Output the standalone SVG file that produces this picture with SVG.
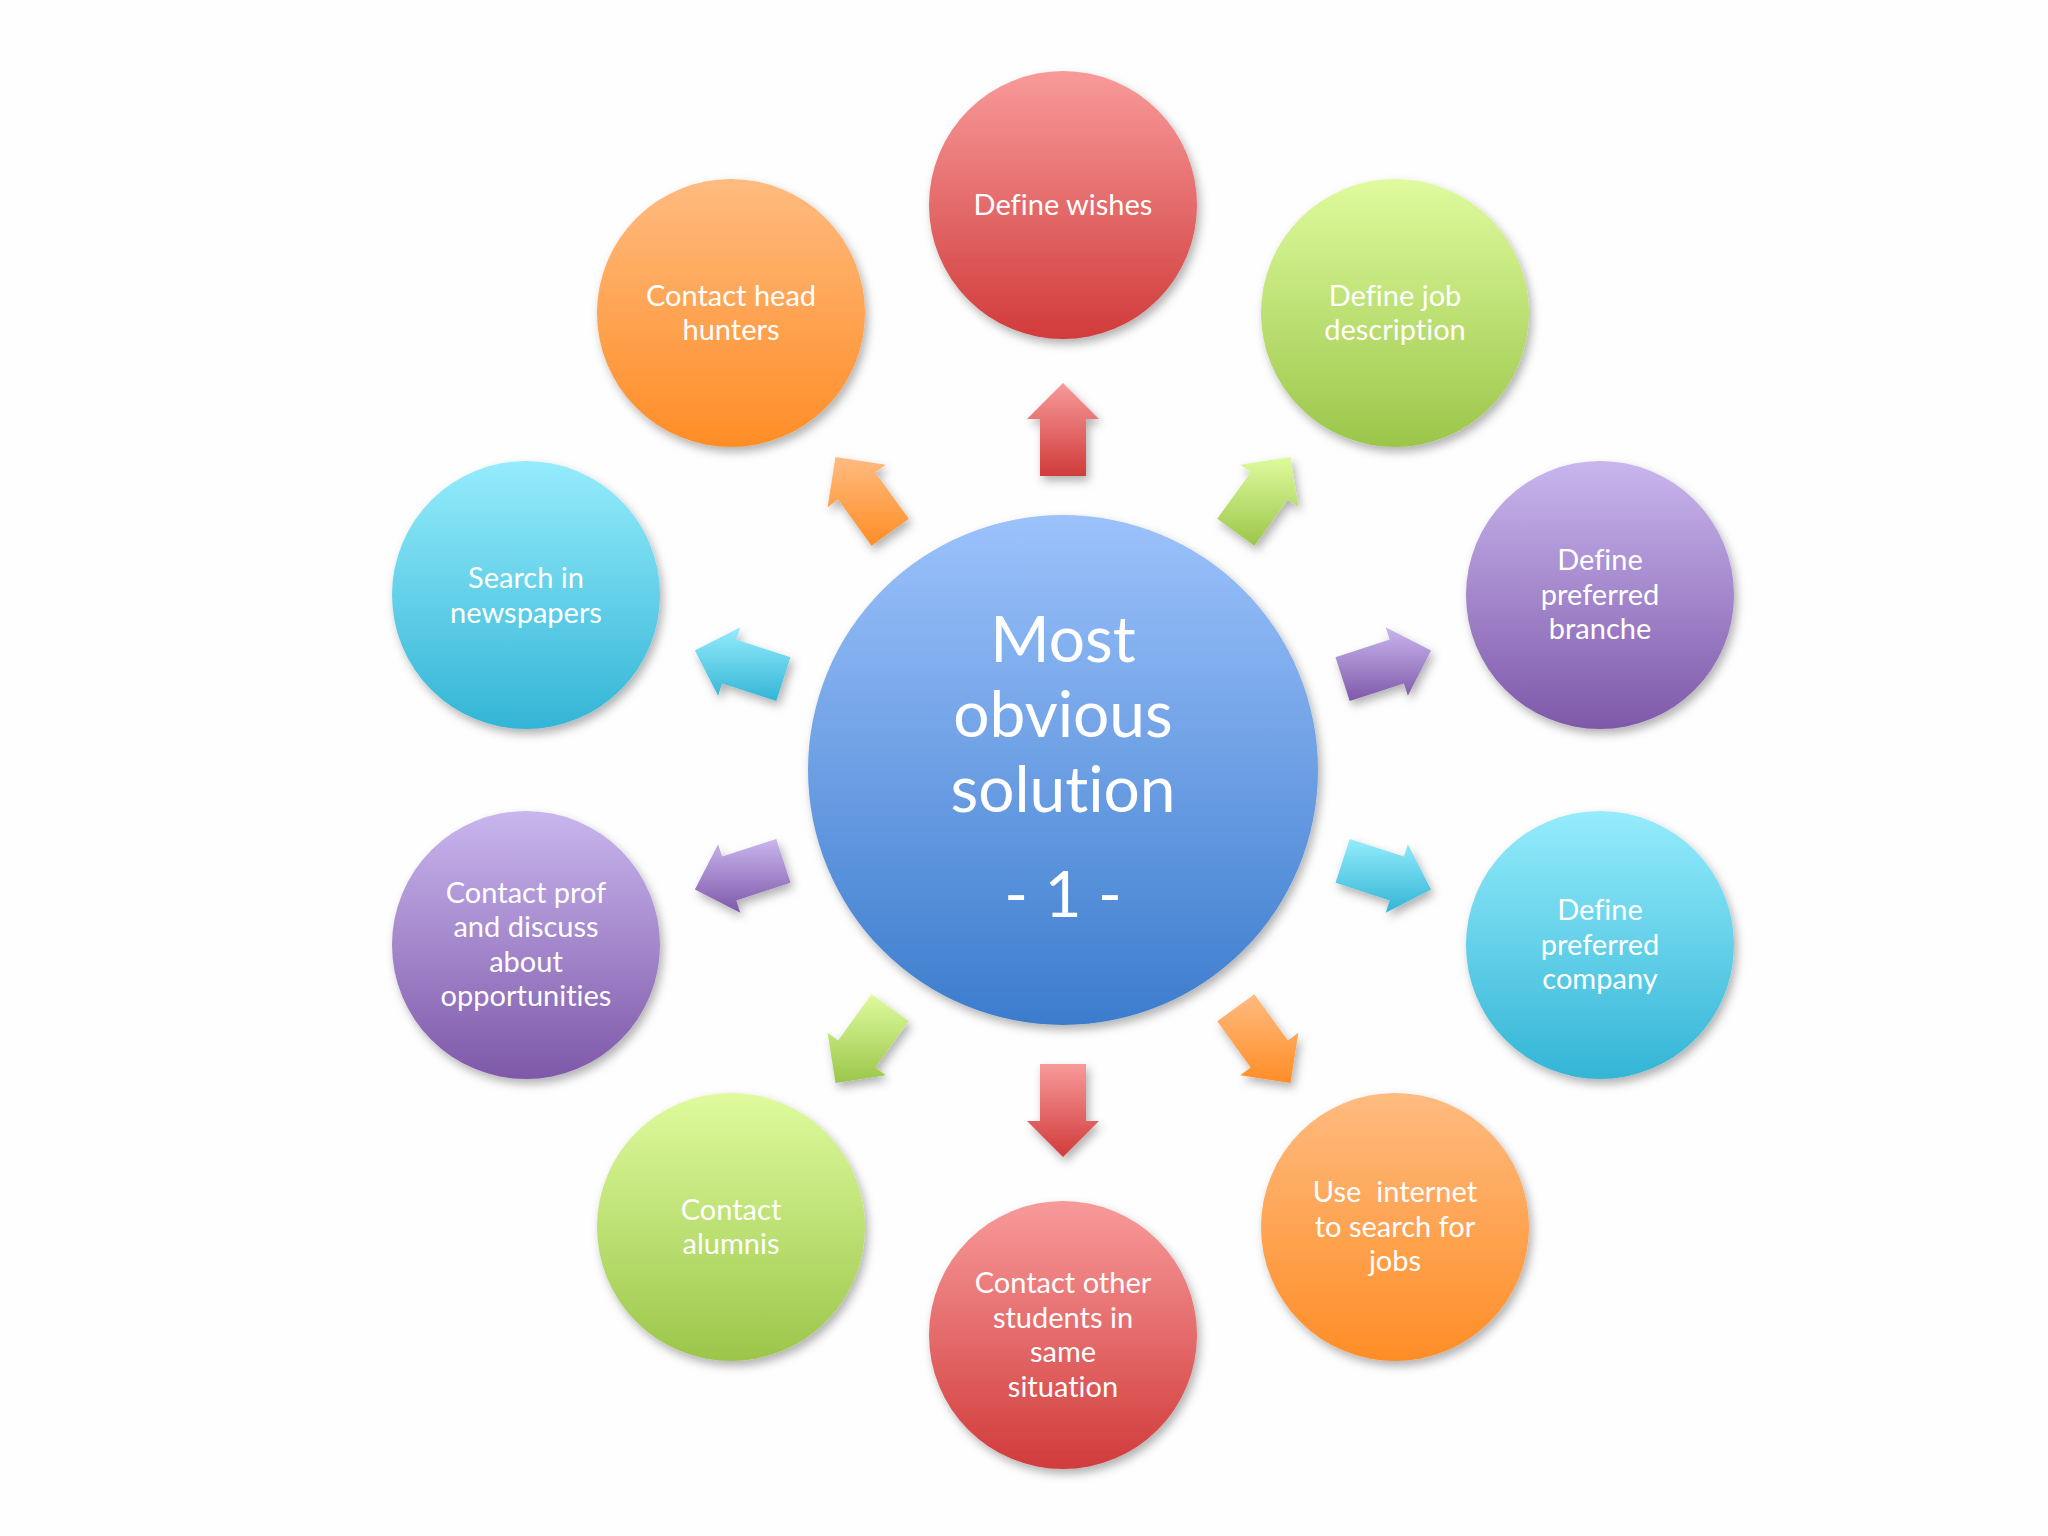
<svg xmlns="http://www.w3.org/2000/svg" width="2048" height="1536" viewBox="0 0 2048 1536">
<defs>
<linearGradient id="gRed" x1="0" y1="0" x2="0" y2="1"><stop offset="0" stop-color="#f89a9a"/><stop offset="1" stop-color="#d13b3b"/></linearGradient>
<linearGradient id="gGreen" x1="0" y1="0" x2="0" y2="1"><stop offset="0" stop-color="#dffb9e"/><stop offset="1" stop-color="#9bc64a"/></linearGradient>
<linearGradient id="gPurple" x1="0" y1="0" x2="0" y2="1"><stop offset="0" stop-color="#c9b6ee"/><stop offset="1" stop-color="#7e58a9"/></linearGradient>
<linearGradient id="gCyan" x1="0" y1="0" x2="0" y2="1"><stop offset="0" stop-color="#95ecfc"/><stop offset="1" stop-color="#33b5d6"/></linearGradient>
<linearGradient id="gOrange" x1="0" y1="0" x2="0" y2="1"><stop offset="0" stop-color="#ffbb80"/><stop offset="1" stop-color="#ff8d26"/></linearGradient>
<linearGradient id="gBlue" x1="0" y1="0" x2="0" y2="1"><stop offset="0" stop-color="#9cc2fb"/><stop offset="1" stop-color="#3c7ccd"/></linearGradient>
<filter id="sh" x="-20%" y="-20%" width="140%" height="140%"><feDropShadow dx="3" dy="5" stdDeviation="5" flood-color="#000" flood-opacity="0.3"/></filter>
</defs>
<style>
.n{filter:url(#sh)}
.t{font-family:Lato,"Open Sans","DejaVu Sans",sans-serif;font-size:29px;fill:#ffffff;text-anchor:middle;font-variant-ligatures:none}
.c{font-family:Lato,"Open Sans","DejaVu Sans",sans-serif;font-size:64px;fill:#ffffff;text-anchor:middle;font-variant-ligatures:none}
.a{filter:url(#sh)}
</style>
<rect width="2048" height="1536" fill="#fefefe"/>

<g id="connectors">
<polygon class="a" fill="url(#gRed)" points="1063,383 1099,419 1086,419 1086,476 1040,476 1040,419 1027,419"/>
<polygon class="a" fill="url(#gGreen)" points="1290.5,456.9 1298.4,507.2 1287.9,499.5 1254.4,545.7 1217.2,518.7 1250.7,472.5 1240.2,464.8"/>
<polygon class="a" fill="url(#gPurple)" points="1431.1,650.4 1407.9,695.7 1403.9,683.4 1349.7,701.1 1335.5,657.3 1389.7,639.6 1385.7,627.3"/>
<polygon class="a" fill="url(#gCyan)" points="1431.1,889.6 1385.7,912.7 1389.7,900.4 1335.5,882.7 1349.7,838.9 1403.9,856.6 1407.9,844.3"/>
<polygon class="a" fill="url(#gOrange)" points="1290.5,1083.1 1298.4,1032.8 1287.9,1040.5 1254.4,994.3 1217.2,1021.3 1250.7,1067.5 1240.2,1075.2"/>
<polygon class="a" fill="url(#gRed)" points="1063,1157 1099,1121 1086,1121 1086,1064 1040,1064 1040,1121 1027,1121"/>
<polygon class="a" fill="url(#gGreen)" points="835.5,1083.1 827.6,1032.8 838.1,1040.5 871.6,994.3 908.8,1021.3 875.3,1067.5 885.8,1075.2"/>
<polygon class="a" fill="url(#gPurple)" points="694.9,889.6 740.3,912.7 736.3,900.4 790.5,882.7 776.3,838.9 722.1,856.6 718.1,844.3"/>
<polygon class="a" fill="url(#gCyan)" points="694.9,650.4 718.1,695.7 722.1,683.4 776.3,701.1 790.5,657.3 736.3,639.6 740.3,627.3"/>
<polygon class="a" fill="url(#gOrange)" points="835.5,456.9 827.6,507.2 838.1,499.5 871.6,545.7 908.8,518.7 875.3,472.5 885.8,464.8"/>
</g>

<g id="center">
<circle class="n" cx="1063" cy="770" r="255" fill="url(#gBlue)"/>
<text class="c" x="1063" y="662">Most</text>
<text class="c" x="1063" y="737">obvious</text>
<text class="c" x="1063" y="812">solution</text>
<text class="c" x="1063" y="917">- 1 -</text>
</g>

<g id="n-define-wishes">
<circle class="n" cx="1063" cy="205" r="134" fill="url(#gRed)"/>
<text class="t" x="1063" y="215">Define wishes</text>
</g>
<g id="n-job-description">
<circle class="n" cx="1395" cy="313" r="134" fill="url(#gGreen)"/>
<text class="t" x="1395" y="306">Define job</text>
<text class="t" x="1395" y="340">description</text>
</g>
<g id="n-branche">
<circle class="n" cx="1600" cy="595" r="134" fill="url(#gPurple)"/>
<text class="t" x="1600" y="570">Define</text>
<text class="t" x="1600" y="605">preferred</text>
<text class="t" x="1600" y="639">branche</text>
</g>
<g id="n-company">
<circle class="n" cx="1600" cy="945" r="134" fill="url(#gCyan)"/>
<text class="t" x="1600" y="920">Define</text>
<text class="t" x="1600" y="955">preferred</text>
<text class="t" x="1600" y="989">company</text>
</g>
<g id="n-internet">
<circle class="n" cx="1395" cy="1227" r="134" fill="url(#gOrange)"/>
<text class="t" x="1395" y="1202" style="white-space:pre" xml:space="preserve">Use  internet</text>
<text class="t" x="1395" y="1237">to search for</text>
<text class="t" x="1395" y="1271">jobs</text>
</g>
<g id="n-students">
<circle class="n" cx="1063" cy="1335" r="134" fill="url(#gRed)"/>
<text class="t" x="1063" y="1293">Contact other</text>
<text class="t" x="1063" y="1328">students in</text>
<text class="t" x="1063" y="1362">same</text>
<text class="t" x="1063" y="1397">situation</text>
</g>
<g id="n-alumnis">
<circle class="n" cx="731" cy="1227" r="134" fill="url(#gGreen)"/>
<text class="t" x="731" y="1220">Contact</text>
<text class="t" x="731" y="1254">alumnis</text>
</g>
<g id="n-prof">
<circle class="n" cx="526" cy="945" r="134" fill="url(#gPurple)"/>
<text class="t" x="526" y="903">Contact prof</text>
<text class="t" x="526" y="937">and discuss</text>
<text class="t" x="526" y="972">about</text>
<text class="t" x="526" y="1006">opportunities</text>
</g>
<g id="n-newspapers">
<circle class="n" cx="526" cy="595" r="134" fill="url(#gCyan)"/>
<text class="t" x="526" y="588">Search in</text>
<text class="t" x="526" y="623">newspapers</text>
</g>
<g id="n-headhunters">
<circle class="n" cx="731" cy="313" r="134" fill="url(#gOrange)"/>
<text class="t" x="731" y="306">Contact head</text>
<text class="t" x="731" y="340">hunters</text>
</g>
</svg>
